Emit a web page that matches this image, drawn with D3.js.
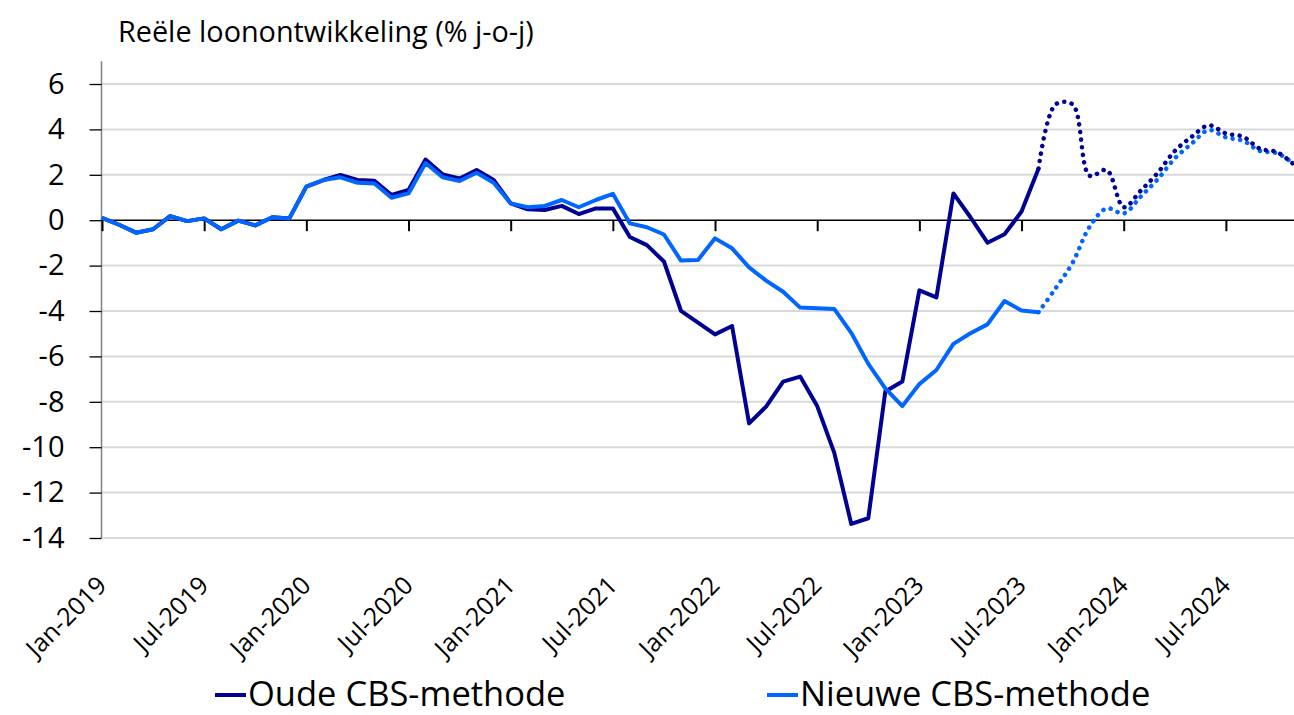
<!DOCTYPE html>
<html>
<head>
<meta charset="utf-8">
<script src="https://cdn.jsdelivr.net/npm/d3@7"></script>
<style>
  body { margin: 0; background: #fff; }
  svg { display: block; font-family: "Open Sans", "Noto Sans", sans-serif; }
</style>
</head>
<body>
<svg id="chart" width="1294" height="715"></svg>
<script>
// maanden vanaf jan-2019 (index 0) t/m nov-2024 (index 70)
var maanden = ["Jan", "Feb", "Mar", "Apr", "May", "Jun", "Jul", "Aug", "Sep", "Oct", "Nov", "Dec"];
var tickMaanden = [0, 6, 12, 18, 24, 30, 36, 42, 48, 54, 60, 66];
var yTicks = [-14, -12, -10, -8, -6, -4, -2, 0, 2, 4, 6];

// laatste maand met realisatie (aug-2023), daarna raming (gestippeld)
var laatsteRealisatie = 55;

var oudeMethode = [
  0.1, -0.2, -0.55, -0.4, 0.18, -0.04, 0.08, -0.4, -0.02, -0.23, 0.13, 0.08,
  1.48, 1.77, 1.99, 1.77, 1.74, 1.11, 1.33, 2.67, 2.02, 1.84, 2.21, 1.77,
  0.74, 0.48, 0.45, 0.63, 0.27, 0.52, 0.52, -0.74, -1.1, -1.82, -3.99, -4.51,
  -5.03, -4.66, -8.95, -8.21, -7.11, -6.89, -8.19, -10.24, -13.38, -13.13, -7.55, -7.11,
  -3.09, -3.4, 1.18, 0.13, -0.99, -0.62, 0.38, 2.28, 5.1, 5.1, 1.96, 2.21,
  0.57, 1.3, 2.09, 3.05, 3.68, 4.18, 3.82, 3.68, 3.15, 3.0, 2.45
];

var nieuweMethode = [
  0.1, -0.2, -0.55, -0.4, 0.18, -0.04, 0.08, -0.4, -0.02, -0.23, 0.13, 0.08,
  1.48, 1.77, 1.89, 1.65, 1.62, 0.99, 1.18, 2.52, 1.89, 1.73, 2.09, 1.65,
  0.74, 0.57, 0.63, 0.89, 0.57, 0.89, 1.16, -0.14, -0.31, -0.63, -1.78, -1.75,
  -0.8, -1.24, -2.08, -2.66, -3.15, -3.85, -3.88, -3.91, -4.96, -6.33, -7.41, -8.19,
  -7.22, -6.6, -5.45, -4.98, -4.59, -3.56, -3.98, -4.05, -3.0, -1.87, -0.29, 0.52,
  0.3, 1.04, 1.81, 2.72, 3.38, 3.97, 3.65, 3.5, 3.05, 2.95, 2.48
];

var reeksen = [
  { naam: "Oude CBS-methode", kleur: "#000092", waarden: oudeMethode },
  { naam: "Nieuwe CBS-methode", kleur: "#0066ff", waarden: nieuweMethode }
];

var svg = d3.select("#chart");

var x = d3.scaleLinear().domain([0, 70]).range([102, 1294]);
var y = d3.scaleLinear().domain([-14, 7]).range([538, 61.3]);

function maandLabel(i) {
  return maanden[i % 12] + "-" + (2019 + Math.floor(i / 12));
}

// titel
svg.append("text")
  .attr("x", 118).attr("y", 42)
  .style("font-size", "28.8px")
  .text("Reële loonontwikkeling (% j-o-j)");

// gridlijnen
svg.append("g")
  .selectAll("line")
  .data(yTicks.filter(d => d !== 0))
  .enter().append("line")
  .attr("x1", 102).attr("x2", 1294)
  .attr("y1", d => y(d)).attr("y2", d => y(d))
  .attr("stroke", "#d9d9d9").attr("stroke-width", 2);

// y-as
var yAxis = svg.append("g")
  .attr("transform", "translate(101.5,0)")
  .call(d3.axisLeft(y).tickValues(yTicks).tickSize(12).tickPadding(25).tickFormat(d3.format("d")));
yAxis.select(".domain").attr("d", "M0," + y(7) + "V" + y(-14)).attr("stroke", "#7f7f7f").attr("stroke-width", 1.5);
yAxis.selectAll(".tick line").attr("stroke", "#000").attr("stroke-width", 1.3);
yAxis.selectAll(".tick text")
  .style("font-size", "29px")
  .style("font-family", "'Open Sans', sans-serif")
  .attr("fill", "#000")
  .text(d => d < 0 ? "-" + Math.abs(d) : d);

// x-as op nul
var xAxis = svg.append("g")
  .attr("transform", "translate(0," + y(0) + ")")
  .call(d3.axisBottom(x).tickValues(tickMaanden).tickSize(11).tickFormat(""));
xAxis.select(".domain").attr("d", "M101," + 0 + "H1294").attr("stroke", "#000").attr("stroke-width", 1.5);
xAxis.selectAll(".tick line").attr("stroke", "#000").attr("stroke-width", 2);

// x-labels onderaan, schuin
svg.append("g")
  .selectAll("text")
  .data(tickMaanden)
  .enter().append("text")
  .attr("transform", d => "translate(" + (x(d) + 6) + ",587) rotate(-45)")
  .attr("text-anchor", "end")
  .style("font-size", "25px")
  .text(d => maandLabel(d));

// lijnen
var lijn = d3.line()
  .x(d => x(d.i))
  .y(d => y(d.v));

var raming = d3.line()
  .x(d => x(d.i))
  .y(d => y(d.v))
  .curve(d3.curveCatmullRom.alpha(0.5));

reeksen.slice().reverse().forEach(function(r) {
  var punten = r.waarden.map((v, i) => ({ i: i, v: v }));
  svg.append("path")
    .datum(punten.slice(laatsteRealisatie))
    .attr("d", raming)
    .attr("fill", "none")
    .attr("stroke", r.kleur)
    .attr("stroke-width", 4.5)
    .attr("stroke-linecap", "round")
    .attr("stroke-dasharray", "0.1 7.5");
});

reeksen.forEach(function(r) {
  var punten = r.waarden.map((v, i) => ({ i: i, v: v }));
  svg.append("path")
    .datum(punten.slice(0, laatsteRealisatie + 1))
    .attr("d", lijn)
    .attr("fill", "none")
    .attr("stroke", r.kleur)
    .attr("stroke-width", 4)
    .attr("stroke-linejoin", "round");
});

// legenda
var legX = [215, 767];
var leg = svg.append("g")
  .selectAll("g")
  .data(reeksen)
  .enter().append("g")
  .attr("transform", (d, i) => "translate(" + legX[i] + ",0)");
leg.append("line")
  .attr("x1", 0).attr("x2", 31)
  .attr("y1", 695).attr("y2", 695)
  .attr("stroke", d => d.kleur).attr("stroke-width", 4);
leg.append("text")
  .attr("x", 33).attr("y", 706)
  .style("font-size", "34.5px")
  .text(d => d.naam);
</script>
</body>
</html>
